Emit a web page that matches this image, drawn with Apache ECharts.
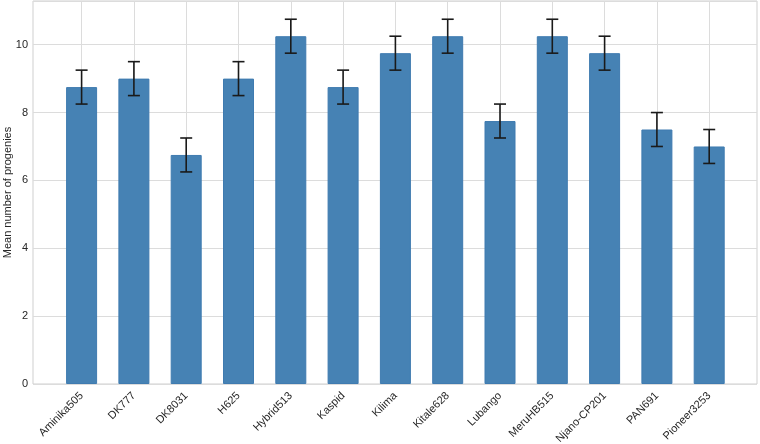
<!DOCTYPE html>
<html>
<head>
<meta charset="utf-8">
<script src="https://cdn.jsdelivr.net/npm/echarts@6/dist/echarts.min.js"></script>
<style>
html, body { margin: 0; padding: 0; background: #fff; }
#main { width: 760px; height: 444px; }
</style>
</head>
<body>
<div id="main"></div>
<script>
var varieties = ['Aminika505', 'DK777', 'DK8031', 'H625', 'Hybrid513', 'Kaspid', 'Kilima',
    'Kitale628', 'Lubango', 'MeruHB515', 'Njano-CP201', 'PAN691', 'Pioneer3253'];
var means = [8.75, 9.0, 6.75, 9.0, 10.25, 8.75, 9.75, 10.25, 7.75, 10.25, 9.75, 7.5, 7.0];
var errs = [0.5, 0.5, 0.5, 0.5, 0.5, 0.5, 0.5, 0.5, 0.5, 0.5, 0.5, 0.5, 0.5];
var yTicks = [0, 2, 4, 6, 8, 10];

var yMax = 11.2875;
var font = 'Liberation Sans, Arial, sans-serif';

var errData = [];
for (var i = 0; i < varieties.length; i++) {
    errData.push([i, means[i] - errs[i], means[i] + errs[i]]);
}

var chart = echarts.init(document.getElementById('main'));

var option = {
    animation: false,
    grid: [
        // outer frame (matplotlib axes)
        { left: 33, right: 3, top: 1, bottom: 60, show: true, borderColor: '#cfcfcf', borderWidth: 1,
          containLabel: false, outerBoundsMode: 'none' },
        // inner grid: first/last category centres
        { left: 81.6, right: 50.8, top: 1, bottom: 60, containLabel: false, outerBoundsMode: 'none' }
    ],
    xAxis: [
        { gridIndex: 0, type: 'value', min: 0, max: 1, show: false },
        {
            gridIndex: 1,
            type: 'category',
            data: varieties,
            boundaryGap: false,
            axisLine: { show: false },
            axisTick: { show: false },
            axisLabel: {
                rotate: 45,
                interval: 0,
                margin: 10,
                fontSize: 11,
                fontFamily: font,
                color: '#262626'
            },
            splitLine: { show: true, lineStyle: { color: '#dcdcdc', width: 1 } }
        }
    ],
    yAxis: [
        {
            gridIndex: 0,
            type: 'value',
            min: 0,
            max: yMax,
            interval: 2,
            name: 'Mean number of progenies',
            nameLocation: 'middle',
            nameGap: 20,
            nameMoveOverlap: false,
            nameTextStyle: { fontSize: 11, fontFamily: font, color: '#262626' },
            axisLine: { show: false },
            axisTick: { show: false },
            axisLabel: {
                fontSize: 11,
                fontFamily: font,
                color: '#262626',
                margin: 5,
                formatter: function (v) { return yTicks.indexOf(v) >= 0 ? String(v) : ''; }
            },
            splitLine: { show: true, lineStyle: { color: '#dcdcdc', width: 1 } }
        },
        { gridIndex: 1, type: 'value', min: 0, max: yMax, show: false }
    ],
    series: [
        {
            type: 'bar',
            xAxisIndex: 1,
            yAxisIndex: 1,
            data: means,
            barWidth: 31,
            clip: false,
            itemStyle: { color: '#4682b4', borderColor: '#3f7bb0', borderWidth: 1 },
            z: 2
        },
        {
            type: 'custom',
            xAxisIndex: 1,
            yAxisIndex: 1,
            data: errData,
            clip: false,
            z: 3,
            renderItem: function (params, api) {
                var x = api.value(0);
                var lo = api.coord([x, api.value(1)]);
                var hi = api.coord([x, api.value(2)]);
                var cap = 6;
                var style = { stroke: '#1a1a1a', lineWidth: 1.6 };
                return {
                    type: 'group',
                    children: [
                        { type: 'line', shape: { x1: lo[0], y1: lo[1], x2: hi[0], y2: hi[1] }, style: style },
                        { type: 'line', shape: { x1: lo[0] - cap, y1: lo[1], x2: lo[0] + cap, y2: lo[1] }, style: style },
                        { type: 'line', shape: { x1: hi[0] - cap, y1: hi[1], x2: hi[0] + cap, y2: hi[1] }, style: style }
                    ]
                };
            }
        }
    ]
};

chart.setOption(option);
</script>
</body>
</html>
